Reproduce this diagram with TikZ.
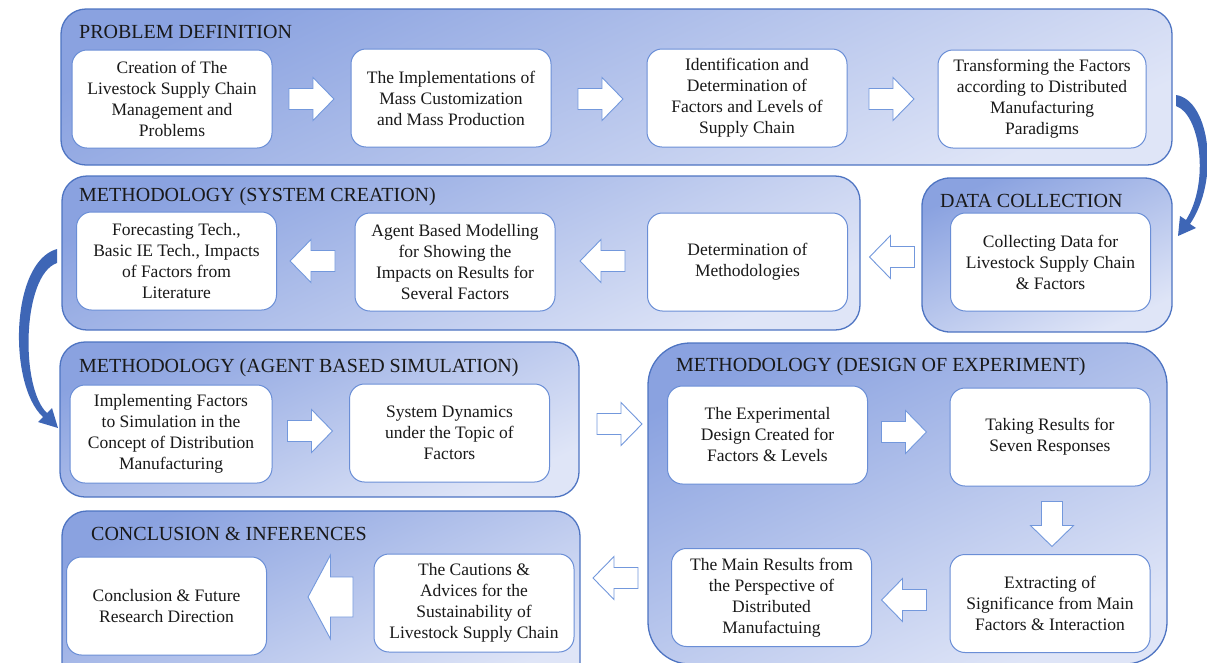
\documentclass[tikz,border=0pt]{standalone}
\usepackage{fontspec}
\setmainfont{Liberation Serif}
\newcommand{\boxtextfont}{\fontsize{17.5}{21}\selectfont}
\newcommand{\panelheadfont}{\fontsize{20}{24}\selectfont}
\definecolor{panelborder}{HTML}{4E74C2}
\definecolor{paneldark}{HTML}{8AA2E0}
\definecolor{panellight}{HTML}{DFE5F7}
\definecolor{boxborder}{HTML}{6A8ED6}
\definecolor{arrowborder}{HTML}{7398DC}
\definecolor{curvearrow}{HTML}{3E66B6}
\begin{document}
\begin{tikzpicture}[x=1pt,y=-1pt,
  panel/.style={draw=panelborder, line width=1.3pt, top color=paneldark,
    bottom color=panellight, shading angle=25, inner sep=0pt},
  stepbox/.style={draw=boxborder, line width=1pt, fill=white, rounded corners=15pt,
    minimum width=200pt, minimum height=98pt, align=center, inner sep=0pt,
    font=\boxtextfont, text=black!90},
  paneltitle/.style={anchor=base west, inner sep=0pt, font=\panelheadfont, text=black!90},
  blockstyle/.style={draw=arrowborder, line width=0.9pt, fill=white, line join=miter},
  pics/smallarrow/.style={code={
    \path[blockstyle] (-22.5,-10.5) -- (1.5,-10.5) -- (1.5,-21.5) -- (22.5,0)
      -- (1.5,21.5) -- (1.5,10.5) -- (-22.5,10.5) -- cycle;}},
  pics/bigarrow/.style={code={
    \path[blockstyle] (-22.5,-20) -- (0,-20) -- (0,-42) -- (22.5,0)
      -- (0,42) -- (0,20) -- (-22.5,20) -- cycle;}}
]
\useasboundingbox (0,0) rectangle (1207,662);
\clip (0,0) rectangle (1207,662);

% ---- stage panels ----
\node[panel, rounded corners=25pt, minimum width=1111pt, minimum height=156pt] (pdef) at (616.5,87) {};
\node[panel, rounded corners=25pt, minimum width=798pt, minimum height=154pt] (psys) at (461,253) {};
\node[panel, rounded corners=28pt, minimum width=250pt, minimum height=154pt] (pdata) at (1047,255) {};
\node[panel, rounded corners=25pt, minimum width=519pt, minimum height=155pt] (pabs) at (319.5,419.5) {};
\node[panel, rounded corners=42pt, minimum width=519pt, minimum height=321pt] (pdoe) at (907.5,503.5) {};
\node[panel, rounded corners=25pt, minimum width=518pt, minimum height=179pt] (pconc) at (321,600.5) {};

% ---- panel headings ----
\node[paneltitle] (tdef) at (79,38) {PROBLEM DEFINITION};
\node[paneltitle] (tsys) at (79,201) {METHODOLOGY (SYSTEM CREATION)};
\node[paneltitle] (tdata) at (940,207) {DATA COLLECTION};
\node[paneltitle] (tabs) at (79,372) {METHODOLOGY (AGENT BASED SIMULATION)};
\node[paneltitle] (tdoe) at (676,371) {METHODOLOGY (DESIGN OF EXPERIMENT)};
\node[paneltitle] (tconc) at (91,540) {CONCLUSION \& INFERENCES};

% ---- problem definition ----
\node[stepbox] (b11) at (172,99) {Creation of The\\Livestock Supply Chain\\Management and\\Problems};
\node[stepbox] (b12) at (451,98) {The Implementations of\\Mass Customization\\and Mass Production};
\node[stepbox] (b13) at (747,98) {Identification and\\Determination of\\Factors and Levels of\\Supply Chain};
\node[stepbox, minimum width=208pt] (b14) at (1042,99) {Transforming the Factors\\according to Distributed\\Manufacturing\\Paradigms};

% ---- system creation ----
\node[stepbox] (b21) at (176.5,261) {Forecasting Tech.,\\Basic IE Tech., Impacts\\of Factors from\\Literature};
\node[stepbox] (b22) at (455,262) {Agent Based Modelling\\for Showing the\\Impacts on Results for\\Several Factors};
\node[stepbox] (b23) at (747.5,262) {Determination of\\Methodologies};

% ---- data collection ----
\node[stepbox] (b31) at (1050.5,262) {Collecting Data for\\Livestock Supply Chain\\\& Factors};

% ---- agent based simulation ----
\node[stepbox, minimum width=202pt] (b41) at (171,434) {Implementing Factors\\to Simulation in the\\Concept of Distribution\\Manufacturing};
\node[stepbox] (b42) at (449.5,433) {System Dynamics\\under the Topic of\\Factors};

% ---- design of experiment ----
\node[stepbox] (b51) at (767.5,435) {The Experimental\\Design Created for\\Factors \& Levels};
\node[stepbox] (b52) at (1050,437) {Taking Results for\\Seven Responses};
\node[stepbox] (b53) at (1050,603.5) {Extracting of\\Significance from Main\\Factors \& Interaction};
\node[stepbox] (b54) at (771.5,597.5) {The Main Results from\\the Perspective of\\Distributed\\Manufactuing};

% ---- conclusion ----
\node[stepbox] (b61) at (166.5,606) {Conclusion \& Future\\Research Direction};
\node[stepbox] (b62) at (474,603) {The Cautions \&\\Advices for the\\Sustainability of\\Livestock Supply Chain};

% ---- block arrows ----
\pic at (311.5,99) {smallarrow};
\pic at (600.5,99) {smallarrow};
\pic at (891.5,99) {smallarrow};
\pic[rotate=180] at (312.5,261) {smallarrow};
\pic[rotate=180] at (602.5,261) {smallarrow};
\pic[rotate=180] at (892,257) {smallarrow};
\pic at (310,431) {smallarrow};
\pic at (619.5,424) {smallarrow};
\pic at (904,432) {smallarrow};
\pic[rotate=-90] at (1052,524) {smallarrow};
\pic[rotate=180] at (904,600) {smallarrow};
\pic[rotate=180] at (615.5,578) {smallarrow};
\pic[rotate=180] at (330.5,597) {bigarrow};

% ---- curved transfer arrows ----
\fill[curvearrow] (1176,95) .. controls (1210,100) and (1220,180) .. (1190,224)
  -- (1196,228) -- (1178,236) -- (1180,216) -- (1186,220)
  .. controls (1210,182) and (1200,114) .. (1176,106) -- cycle;
\fill[curvearrow] (57,249) .. controls (10,262) and (8,385) .. (43,417)
  -- (38,422) -- (58,428) -- (52,408) -- (47,413)
  .. controls (20,388) and (22,275) .. (57,263) -- cycle;
\end{tikzpicture}
\end{document}
